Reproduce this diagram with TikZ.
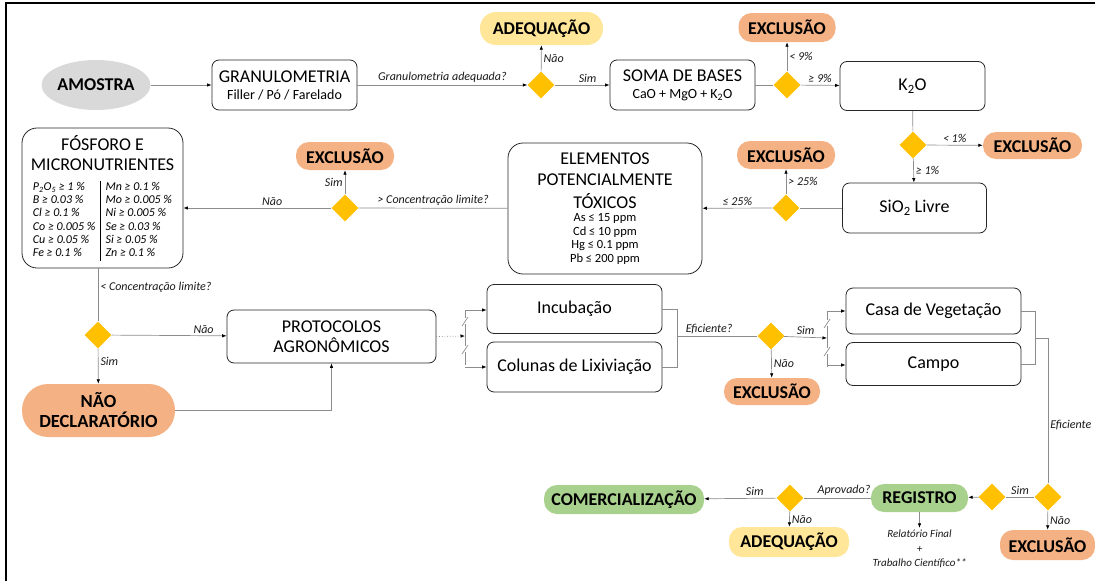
\documentclass[tikz,border=0pt]{standalone}
\usepackage{fontspec}
\setmainfont{Carlito}
\usetikzlibrary{shapes.geometric,arrows.meta}

\definecolor{ambar}{HTML}{FFC000}
\definecolor{salmao}{HTML}{F4B183}
\definecolor{amarelo}{HTML}{FFE699}
\definecolor{verde}{HTML}{A9D18E}
\definecolor{cinzaclaro}{HTML}{D9D9D9}
\definecolor{linha}{HTML}{8C8C8C}

\tikzset{
  caixa/.style={draw=black!85, line width=0.8pt, rounded corners=7pt, align=center, inner sep=2pt, font=\fontsize{18}{17}\selectfont},
  pilula/.style={rounded corners=13pt, align=center, inner sep=1pt, font=\fontsize{18}{20}\selectfont\bfseries},
  decisao/.style={diamond, fill=ambar, minimum width=27pt, minimum height=27pt, inner sep=0pt},
  liga/.style={draw=linha, line width=0.7pt},
  seta/.style={liga, -{Latex[length=4.5pt,width=3.5pt,color=black]}},
  rotulo/.style={font=\fontsize{12}{13}\selectfont\itshape, text=black!90, inner sep=2pt},
}

\begin{document}
\begin{tikzpicture}[x=1pt, y=-1pt]
  \useasboundingbox (0,0) rectangle (1095,581);
  % Moldura
  \draw[line width=2.5pt] (6,581) -- (6,3) -- (1095,3);

  % Linha de cima
  \node[ellipse, fill=cinzaclaro, inner sep=0pt, minimum width=108pt, minimum height=50pt, font=\fontsize{18}{18}\selectfont\bfseries] (amostra) at (96,85) {AMOSTRA};
  \node[caixa, minimum width=145pt, minimum height=50pt] (granulo) at (284.5,85) {GRANULOMETRIA\\{\fontsize{14}{14}\selectfont Filler / Pó / Farelado}};
  \node[decisao] (d1) at (541,85) {};
  \node[pilula, rounded corners=16pt, fill=amarelo, minimum width=123pt, minimum height=33pt] (adeq1) at (541.5,28.5) {ADEQUAÇÃO};
  \node[caixa, minimum width=145pt, minimum height=50pt] (soma) at (682.5,85) {SOMA DE BASES\\{\fontsize{14}{14}\selectfont CaO + MgO + K\textsubscript{2}O}};
  \node[decisao] (d2) at (787,85) {};
  \node[pilula, fill=salmao, minimum width=97pt, minimum height=29pt] (excl1) at (787,27.5) {EXCLUSÃO};
  \node[caixa, minimum width=145pt, minimum height=49pt] (k2o) at (912.5,86) {K\textsubscript{2}O};

  % Lado direito
  \node[decisao] (d3) at (913,145) {};
  \node[pilula, fill=salmao, minimum width=99pt, minimum height=27pt] (excl2) at (1032.5,145.5) {EXCLUSÃO};
  \node[caixa, minimum width=144pt, minimum height=50pt] (sio2) at (914.5,208) {SiO\textsubscript{2} Livre};
  \node[decisao] (d4) at (786,208) {};
  \node[pilula, fill=salmao, minimum width=98pt, minimum height=28pt] (excl3) at (786,155) {EXCLUSÃO};

  % Elementos toxicos
  \node[caixa, rounded corners=15pt, minimum width=194pt, minimum height=131pt, font=\fontsize{12.5}{13.5}\selectfont] (elem) at (605,208.5)
    {{\fontsize{18}{16}\selectfont ELEMENTOS}\\[7pt]{\fontsize{18}{16}\selectfont POTENCIALMENTE}\\[7pt]{\fontsize{18}{16}\selectfont TÓXICOS}\\[0pt]
     As ≤ 15 ppm\\Cd ≤ 10 ppm\\Hg ≤ 0.1 ppm\\Pb ≤ 200 ppm};
  \node[decisao] (d5) at (345,208) {};
  \node[pilula, fill=salmao, minimum width=98pt, minimum height=28pt] (excl4) at (345,156) {EXCLUSÃO};

  % Fosforo e micronutrientes
  \node[caixa, rounded corners=15pt, minimum width=161pt, minimum height=140pt, font=\fontsize{18}{20}\selectfont] (fosforo) at (102.5,198)
    {FÓSFORO E\\MICRONUTRIENTES\\{\fontsize{12}{13.3}\selectfont\itshape
     \begin{tabular}[t]{@{}l@{\hspace{5pt}}|@{\hspace{5pt}}l@{}}
       P\textsubscript{2}O\textsubscript{5} ≥ 1 \% & Mn ≥ 0.1 \%\\
       B ≥ 0.03 \% & Mo ≥ 0.005 \%\\
       Cl ≥ 0.1 \% & Ni ≥ 0.005 \%\\
       Co ≥ 0.005 \% & Se ≥ 0.03 \%\\
       Cu ≥ 0.05 \% & Si ≥ 0.05 \%\\
       Fe ≥ 0.1 \% & Zn ≥ 0.1 \%
     \end{tabular}}};

  % Protocolos
  \node[decisao] (d6) at (98,335) {};
  \node[pilula, rounded corners=26pt, fill=salmao, minimum width=153pt, minimum height=53pt, font=\fontsize{18.5}{20}\selectfont\bfseries] (naodecl) at (98.5,410.5) {NÃO\\DECLARATÓRIO};
  \node[caixa, minimum width=209pt, minimum height=53pt, font=\fontsize{18}{20}\selectfont] (prot) at (331.5,336.5) {PROTOCOLOS\\AGRONÔMICOS};
  \node[caixa, minimum width=175pt, minimum height=49pt] (incub) at (574.5,309) {Incubação};
  \node[caixa, minimum width=175pt, minimum height=50pt] (colunas) at (574.5,367) {Colunas de Lixiviação};
  \node[decisao] (d7) at (771,336) {};
  \node[pilula, fill=salmao, minimum width=96pt, minimum height=27pt] (excl5) at (772,391.5) {EXCLUSÃO};
  \node[caixa, minimum width=175pt, minimum height=46pt] (casa) at (933.5,311) {Casa de Vegetação};
  \node[caixa, minimum width=175pt, minimum height=43pt] (campo) at (933.5,364) {Campo};

  % Linha de baixo
  \node[decisao] (d8) at (1048,497) {};
  \node[pilula, fill=salmao, minimum width=95pt, minimum height=30pt] (excl6) at (1047.5,545) {EXCLUSÃO};
  \node[decisao] (d9) at (992,497) {};
  \node[pilula, fill=verde, minimum width=97pt, minimum height=28pt] (registro) at (919.5,498) {REGISTRO};
  \node[decisao] (d10) at (790,498) {};
  \node[pilula, fill=verde, minimum width=160pt, minimum height=29pt] (comerc) at (624,499.5) {COMERCIALIZAÇÃO};
  \node[pilula, fill=amarelo, minimum width=120pt, minimum height=30pt] (adeq2) at (789,542) {ADEQUAÇÃO};
  \node[rotulo, align=center, font=\fontsize{11}{14.5}\selectfont\itshape] (relatorio) at (919.5,549) {Relatório Final\\+\\Trabalho Científico**};

  % Chaves
  \coordinate (sw1) at (465,336);
  \coordinate (sw1t) at (465,310);
  \coordinate (sw1b) at (465,367);
  \coordinate (sw2) at (827,338);
  \coordinate (sw2t) at (827,311);
  \coordinate (sw2b) at (827,365);
  \foreach \sx/\sy in {465/336, 827/338} {
    \draw[liga] (\sx,\sy-26) -- (\sx,\sy-18) (\sx,\sy-12) -- (\sx,\sy+10) (\sx,\sy+16) -- (\sx,\sy+29);
    \draw[liga] (\sx-3,\sy-10) -- (\sx+3,\sy-19) (\sx-3,\sy+18) -- (\sx+3,\sy+9);
  }
  \coordinate (br1) at (677,336);
  \coordinate (br2) at (1035,338);

  % Ligacoes
  \draw[seta] (amostra) -- (granulo);
  \draw[seta] (granulo) -- node[rotulo, above] {Granulometria adequada?} (d1);
  \draw[seta] (d1) -- node[rotulo, right] {Não} (adeq1);
  \draw[seta] (d1) -- node[rotulo, above, pos=0.6] {Sim} (soma);
  \draw[liga] (soma) -- (d2);
  \draw[seta] (d2) -- node[rotulo, right] {< 9\%} (excl1);
  \draw[seta] (d2) -- node[rotulo, above] {≥ 9\%} (k2o);
  \draw[liga] (k2o) -- (d3);
  \draw[seta] (d3) -- node[rotulo, above] {< 1\%} (excl2);
  \draw[seta] (d3) -- node[rotulo, right] {≥ 1\%} (sio2);
  \draw[liga] (sio2) -- (d4);
  \draw[seta] (d4) -- node[rotulo, right] {> 25\%} (excl3);
  \draw[seta] (d4) -- node[rotulo, above] {≤ 25\%} (elem);
  \draw[liga] (elem) -- node[rotulo, above] {> Concentração limite?} (d5);
  \draw[seta] (d5) -- node[rotulo, left] {Sim} (excl4);
  \draw[seta] (d5) -- node[rotulo, above, pos=0.4] {Não} (d5 -| fosforo.east);
  \draw[liga] (d6.north |- fosforo.south) -- node[rotulo, right, pos=0.35] {< Concentração limite?} (d6.north);
  \draw[seta] (d6) -- node[rotulo, above, pos=0.8] {Não} (prot);
  \draw[seta] (d6) -- node[rotulo, right, pos=0.35] {Sim} (naodecl);
  \draw[seta] (naodecl.east) -| (prot.south);
  \draw[liga, dotted, -{Latex[length=4.5pt,width=3.5pt,color=black]}] (prot.east) -- (sw1);
  \draw[seta] (sw1t) -- (sw1t -| incub.west);
  \draw[seta] (sw1b) -- (sw1b -| colunas.west);
  \draw[liga] (incub.east) -- (incub.east -| br1) -- (colunas.east -| br1) -- (colunas.east);
  \draw[liga] (br1) -- node[rotulo, above, pos=0.4] {Eficiente?} (d7);
  \draw[seta] (d7) -- node[rotulo, right] {Não} (excl5);
  \draw[seta] (d7) -- node[rotulo, above] {Sim} (sw2);
  \draw[seta] (sw2t) -- (sw2t -| casa.west);
  \draw[seta] (sw2b) -- (sw2b -| campo.west);
  \draw[liga] (casa.east) -- (casa.east -| br2) -- (campo.east -| br2) -- (campo.east);
  \draw[liga] (br2) -| node[rotulo, right, pos=0.8] {Eficiente} (d8);
  \draw[seta] (d8) -- node[rotulo, right] {Não} (excl6);
  \draw[liga] (d8) -- node[rotulo, above] {Sim} (d9);
  \draw[seta] (d9) -- (registro);
  \draw[liga] (registro) -- node[rotulo, above, pos=0.4] {Aprovado?} (d10);
  \draw[seta] (d10) -- node[rotulo, above, pos=0.3] {Sim} (comerc);
  \draw[seta] (d10) -- node[rotulo, right] {Não} (adeq2);
  \draw[seta] (registro) -- (relatorio);
\end{tikzpicture}
\end{document}
